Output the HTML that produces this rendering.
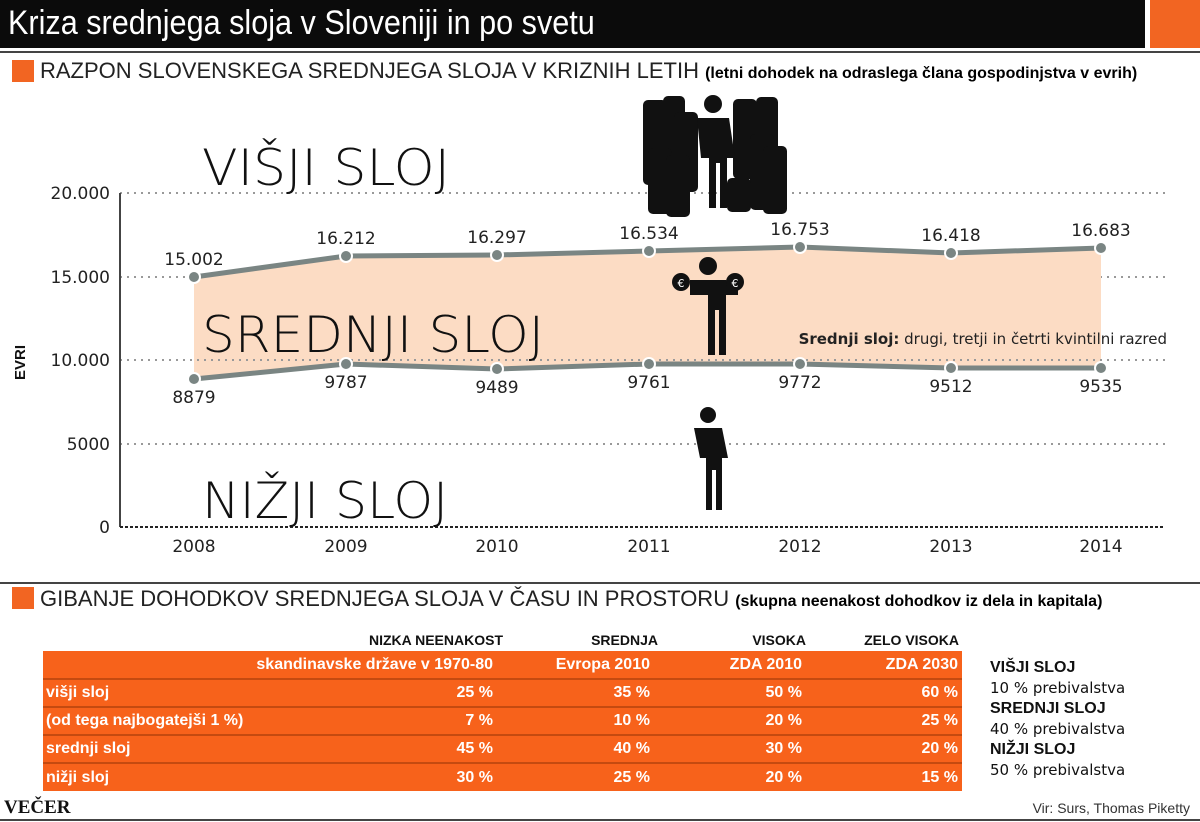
<!DOCTYPE html>
<html><head><meta charset="utf-8"><style>
body{margin:0;width:1200px;height:822px;background:#fff;position:relative;overflow:hidden;font-family:"Liberation Sans Narrow","Liberation Sans",sans-serif;}
.a{position:absolute;white-space:nowrap}
table{border-collapse:collapse}
</style></head><body>
<div class="a" style="left:0;top:0;width:1145px;height:48px;background:#0b0b0b"></div>
<div class="a" style="left:1150px;top:0;width:50px;height:48px;background:#f26522"></div>
<div class="a" style="left:8px;top:4px;color:#fff;font-size:34px;transform:scaleX(0.9);transform-origin:0 0">Kriza srednjega sloja v Sloveniji in po svetu</div>
<div class="a" style="left:0;top:51px;width:1200px;height:2px;background:#444"></div>
<div class="a" style="left:12px;top:60px;width:22px;height:22px;background:#f26522"></div>
<div class="a" style="left:40px;top:58px;font-size:22px;color:#222">RAZPON SLOVENSKEGA SREDNJEGA SLOJA V KRIZNIH LETIH <b style="font-size:16px;color:#000">(letni dohodek na odraslega člana gospodinjstva v evrih)</b></div>

<svg class="a" style="left:0;top:0" width="1200" height="822">
<g stroke="#999" stroke-width="2" stroke-dasharray="2,5">
<line x1="120" x2="1165" y1="193" y2="193"/><line x1="120" x2="1165" y1="277" y2="277"/><line x1="120" x2="1165" y1="360" y2="360"/><line x1="120" x2="1165" y1="444" y2="444"/></g>
<polygon fill="#fcdcc4" points="194,277 346,256 497,255 649,251 800,247 951,253 1101,248 1101,368 951,368 800,364 649,364 497,369 346,364 194,379"/>
<g stroke="#999" stroke-width="2" stroke-dasharray="2,5">
<line x1="120" x2="1165" y1="360" y2="360"/></g>
<line x1="120" x2="120" y1="193" y2="527" stroke="#444" stroke-width="2"/>
<line x1="120" x2="1165" y1="527" y2="527" stroke="#222" stroke-width="2" stroke-dasharray="3,2"/>
<g fill="none" stroke="#7a8583" stroke-width="5">
<polyline points="194,277 346,256 497,255 649,251 800,247 951,253 1101,248"/>
<polyline points="194,379 346,364 497,369 649,364 800,364 951,368 1101,368"/></g>
<g fill="#7a8583" stroke="#fff" stroke-width="2">
<circle cx="194" cy="277" r="6"/><circle cx="346" cy="256" r="6"/><circle cx="497" cy="255" r="6"/><circle cx="649" cy="251" r="6"/><circle cx="800" cy="247" r="6"/><circle cx="951" cy="253" r="6"/><circle cx="1101" cy="248" r="6"/>
<circle cx="194" cy="379" r="6"/><circle cx="346" cy="364" r="6"/><circle cx="497" cy="369" r="6"/><circle cx="649" cy="364" r="6"/><circle cx="800" cy="364" r="6"/><circle cx="951" cy="368" r="6"/><circle cx="1101" cy="368" r="6"/></g>
<g font-family="DejaVu Sans,sans-serif" font-size="17" fill="#222" text-anchor="middle">
<text x="194" y="265">15.002</text><text x="346" y="244">16.212</text><text x="497" y="243">16.297</text><text x="649" y="239">16.534</text><text x="800" y="235">16.753</text><text x="951" y="241">16.418</text><text x="1101" y="236">16.683</text>
<text x="194" y="403">8879</text><text x="346" y="388">9787</text><text x="497" y="393">9489</text><text x="649" y="388">9761</text><text x="800" y="388">9772</text><text x="951" y="392">9512</text><text x="1101" y="392">9535</text>
<text x="194" y="552">2008</text><text x="346" y="552">2009</text><text x="497" y="552">2010</text><text x="649" y="552">2011</text><text x="800" y="552">2012</text><text x="951" y="552">2013</text><text x="1101" y="552">2014</text>
</g>
<g font-family="DejaVu Sans,sans-serif" font-size="17" fill="#222" text-anchor="end">
<text x="110" y="199">20.000</text><text x="110" y="283">15.000</text><text x="110" y="366">10.000</text><text x="110" y="450">5000</text><text x="110" y="533">0</text></g>
<text x="0" y="0" transform="translate(25,380) rotate(-90)" font-family="Liberation Sans,sans-serif" font-weight="bold" font-size="15" fill="#111">EVRI</text>
<g font-family="DejaVu Sans,sans-serif" font-size="50" fill="#111" font-weight="200">
<text x="202" y="185" textLength="248" lengthAdjust="spacingAndGlyphs">VIŠJI SLOJ</text>
<text x="202" y="352" textLength="342" lengthAdjust="spacingAndGlyphs">SREDNJI SLOJ</text>
<text x="202" y="518" textLength="246" lengthAdjust="spacingAndGlyphs">NIŽJI SLOJ</text></g>
<text x="1167" y="344" text-anchor="end" font-family="DejaVu Sans,sans-serif" font-size="15" fill="#222"><tspan font-weight="bold">Srednji sloj:</tspan> drugi, tretji in četrti kvintilni razred</text>
<g fill="#111">
<rect x="643" y="100" width="24" height="85" rx="5"/><rect x="663" y="96" width="22" height="60" rx="5"/><rect x="674" y="112" width="24" height="80" rx="5"/><rect x="648" y="148" width="24" height="66" rx="5"/><rect x="666" y="155" width="24" height="62" rx="5"/>
<rect x="733" y="99" width="24" height="80" rx="5"/><rect x="756" y="97" width="22" height="60" rx="5"/><rect x="750" y="134" width="24" height="76" rx="5"/><rect x="763" y="146" width="24" height="68" rx="5"/><rect x="727" y="178" width="24" height="34" rx="5"/>
<circle cx="713" cy="104" r="9"/><path d="M697 118 h32 l6 40 h-8 v50 h-7 v-45 h-4 v45 h-7 v-50 h-8z"/>
<circle cx="708" cy="266" r="9"/><path d="M690 280 h36 l12 8 v7 h-12 v60 h-7 v-45 h-4 v45 h-7 v-60 h-18 v-7z"/>
<circle cx="681" cy="282" r="9"/><circle cx="735" cy="282" r="9"/>
<circle cx="708" cy="415" r="8"/><path d="M694 428 h28 l6 30 h-6 v52 h-6 v-40 h-4 v40 h-6 v-52 h-6 z"/>
</g>
<text x="681" y="287" font-size="11" fill="#fff" text-anchor="middle" font-family="DejaVu Sans">€</text>
<text x="735" y="287" font-size="11" fill="#fff" text-anchor="middle" font-family="DejaVu Sans">€</text>
<line x1="0" x2="1200" y1="583" y2="583" stroke="#444" stroke-width="2"/>
<line x1="0" x2="1200" y1="820" y2="820" stroke="#444" stroke-width="2"/>
</svg>

<div class="a" style="left:12px;top:587px;width:22px;height:22px;background:#f26522"></div>
<div class="a" style="left:40px;top:586px;font-size:22px;color:#222">GIBANJE DOHODKOV SREDNJEGA SLOJA V ČASU IN PROSTORU <b style="font-size:16px;color:#000">(skupna neenakost dohodkov iz dela in kapitala)</b></div>

<div class="a" style="left:43px;top:632px;width:916px;font-weight:bold;font-size:14px;color:#111">
<span class="a" style="right:456px">NIZKA NEENAKOST</span><span class="a" style="right:301px">SREDNJA</span><span class="a" style="right:153px">VISOKA</span><span class="a" style="right:0">ZELO VISOKA</span></div>
<table class="a" style="left:43px;top:651px;width:919px;background:#f7621b;color:#fff;font-weight:bold;font-size:16px">
<colgroup><col style="width:140px"><col style="width:314px"><col style="width:157px"><col style="width:152px"><col style="width:156px"></colgroup>
<tr style="height:28px;border-bottom:2px solid #c44a10"><td></td><td style="text-align:right;padding-right:4px">skandinavske države v 1970-80</td><td style="text-align:right;padding-right:4px">Evropa 2010</td><td style="text-align:right;padding-right:4px">ZDA 2010</td><td style="text-align:right;padding-right:4px">ZDA 2030</td></tr>
<tr style="height:28px;border-bottom:2px solid #c44a10"><td style="padding-left:3px">višji sloj</td><td style="text-align:right;padding-right:4px">25 %</td><td style="text-align:right;padding-right:4px">35 %</td><td style="text-align:right;padding-right:4px">50 %</td><td style="text-align:right;padding-right:4px">60 %</td></tr>
<tr style="height:28px;border-bottom:2px solid #c44a10"><td colspan="2" style="padding-left:3px;position:relative">(od tega najbogatejši 1 %)<span style="position:absolute;right:4px">7 %</span></td><td style="text-align:right;padding-right:4px">10 %</td><td style="text-align:right;padding-right:4px">20 %</td><td style="text-align:right;padding-right:4px">25 %</td></tr>
<tr style="height:28px;border-bottom:2px solid #c44a10"><td style="padding-left:3px">srednji sloj</td><td style="text-align:right;padding-right:4px">45 %</td><td style="text-align:right;padding-right:4px">40 %</td><td style="text-align:right;padding-right:4px">30 %</td><td style="text-align:right;padding-right:4px">20 %</td></tr>
<tr style="height:28px"><td style="padding-left:3px">nižji sloj</td><td style="text-align:right;padding-right:4px">30 %</td><td style="text-align:right;padding-right:4px">25 %</td><td style="text-align:right;padding-right:4px">20 %</td><td style="text-align:right;padding-right:4px">15 %</td></tr>
</table>
<div class="a" style="left:990px;top:657px;font-size:16px;line-height:20px;color:#111;font-family:'DejaVu Sans',sans-serif">
<b style="font-family:'Liberation Sans Narrow','Liberation Sans',sans-serif;font-size:16px">VIŠJI SLOJ</b><br><span style="font-size:15px">10 % prebivalstva</span><br><b style="font-family:'Liberation Sans Narrow','Liberation Sans',sans-serif">SREDNJI SLOJ</b><br><span style="font-size:15px">40 % prebivalstva</span><br><b style="font-family:'Liberation Sans Narrow','Liberation Sans',sans-serif">NIŽJI SLOJ</b><br><span style="font-size:15px">50 % prebivalstva</span></div>
<div class="a" style="left:4px;top:797px;font-family:'Liberation Serif',serif;font-weight:bold;font-size:19px;color:#111">VEČER</div>
<div class="a" style="right:10px;top:800px;font-size:14px;color:#333">Vir: Surs, Thomas Piketty</div>
</body></html>
